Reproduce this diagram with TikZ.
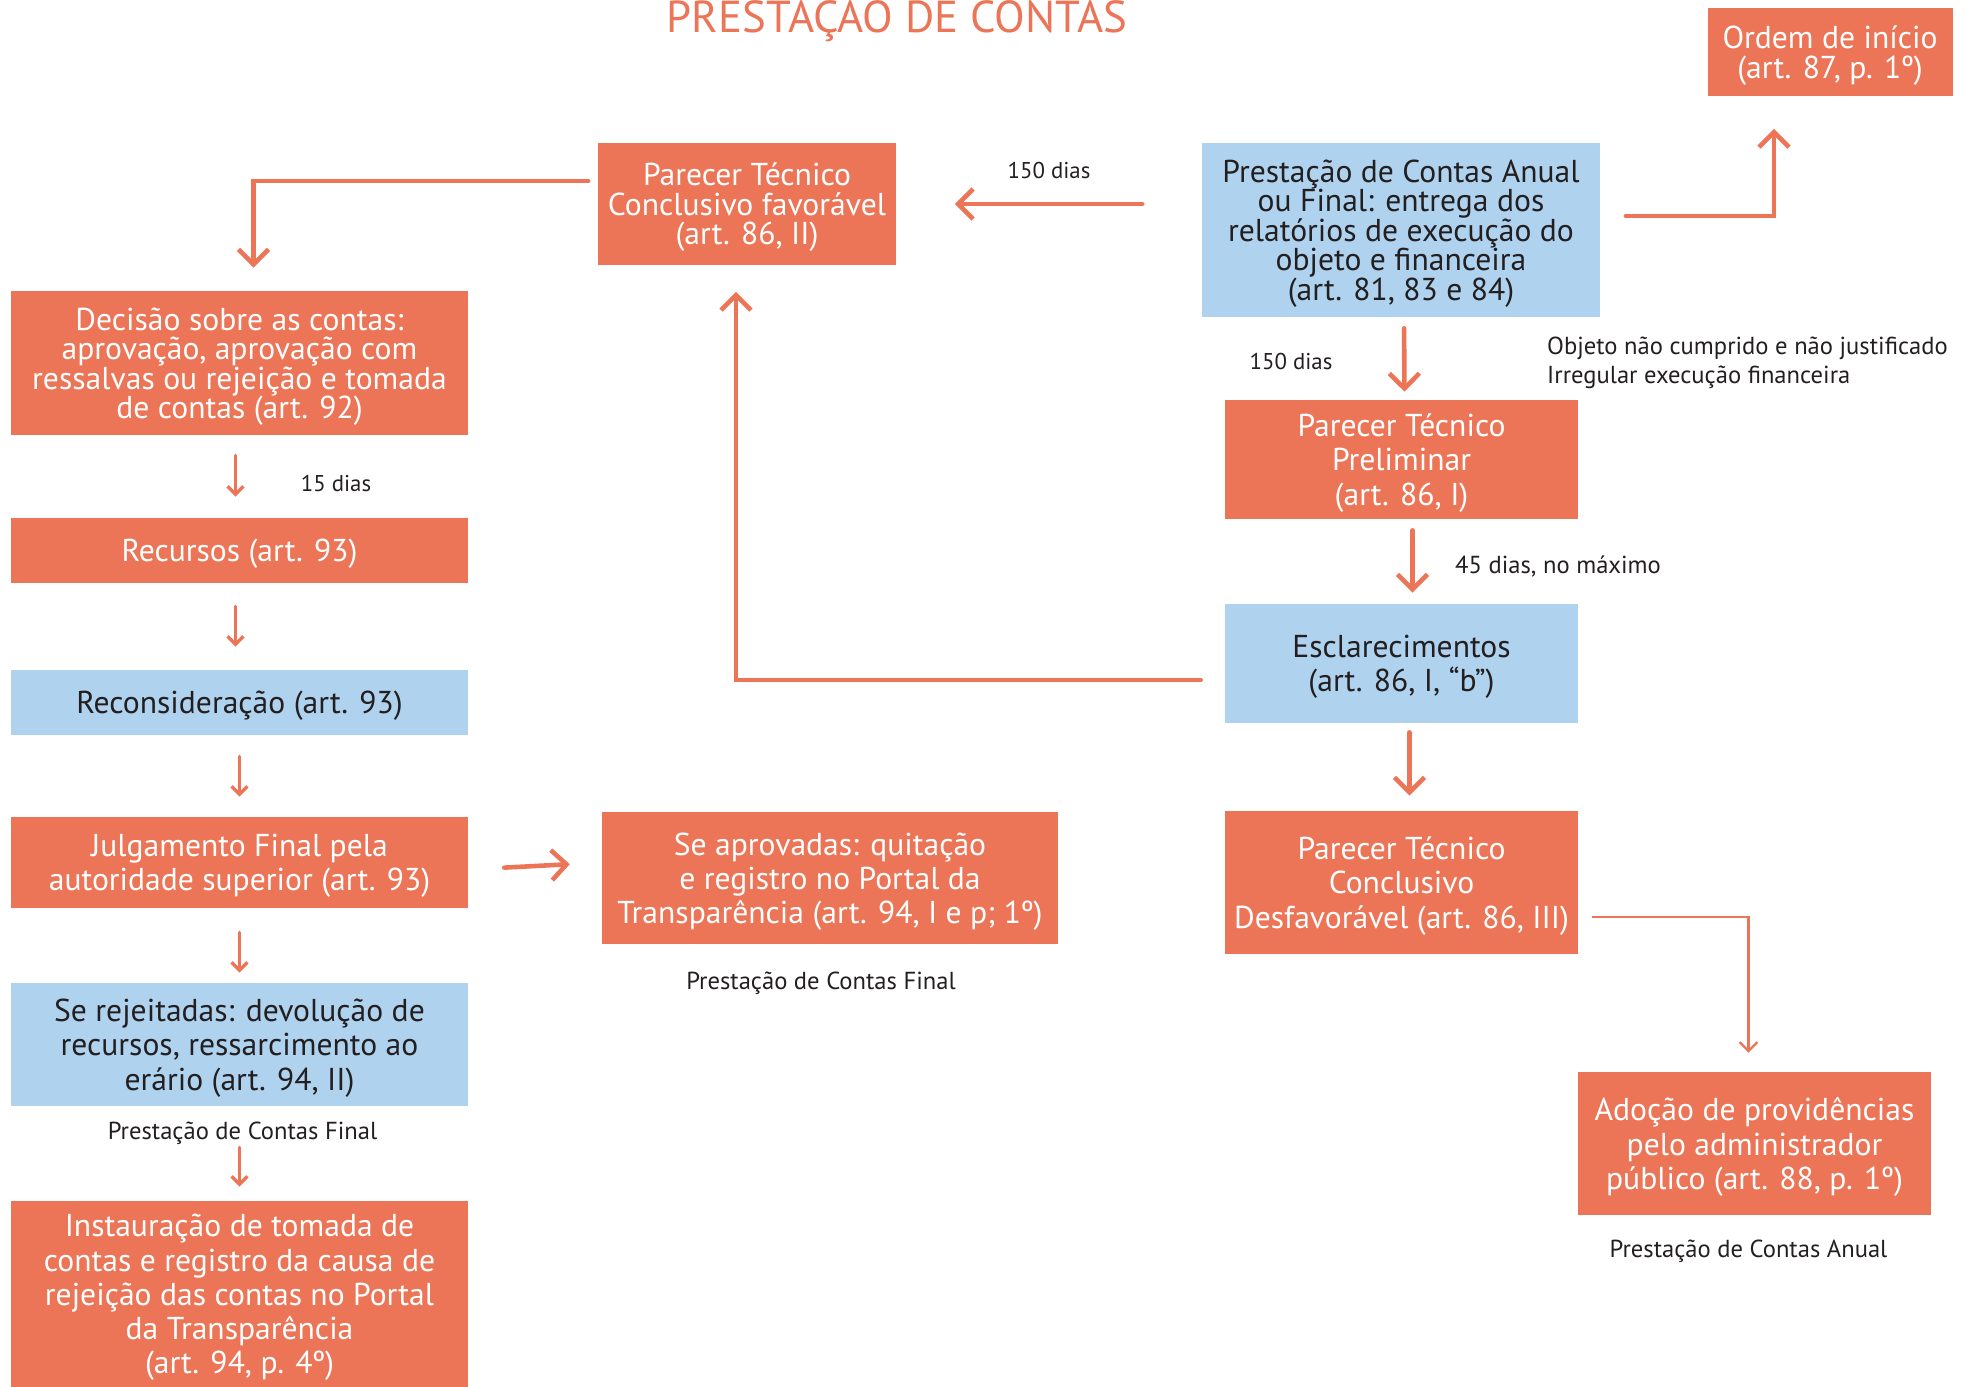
\documentclass[tikz,border=0pt]{standalone}
\usepackage{fontspec}
\setmainfont{PT Sans}
\usepackage{xcolor}
\usepackage{tikz}
\usetikzlibrary{positioning,arrows.meta}

\definecolor{orng}{HTML}{EC7557}
\definecolor{azul}{HTML}{AFD2EE}
\definecolor{ink}{HTML}{231F20}

\begin{document}
\begin{tikzpicture}[
  x=0.02cm, y=-0.02cm,
  box/.style={rectangle, inner sep=0pt, align=center, text depth=-3.5pt},
  tight/.style={font=\fontsize{18}{16.8}\selectfont},
  loose/.style={font=\fontsize{18}{19.5}\selectfont, text depth=-8pt},
  obox/.style={box, fill=orng, text=white},
  bbox/.style={box, fill=azul, text=ink},
  lbl/.style={font=\fontsize{14}{16.4}\selectfont, text=ink},
  dias/.style={font=\fontsize{13}{15}\selectfont, text=ink},
  arr/.style={draw=orng, line width=2.6pt, line cap=round,
    -{Straight Barb[length=0.3cm, width=0.6cm]}},
  arrsmall/.style={draw=orng, line width=1.9pt, line cap=round,
    -{Straight Barb[length=0.16cm, width=0.32cm]}},
  arrthin/.style={draw=orng, line width=1.3pt,
    -{Straight Barb[length=0.18cm, width=0.36cm]}}
]
\useasboundingbox (0,0) rectangle (1966,1386);

% Title
\node[anchor=base, text=orng, font=\fontsize{25.5}{27}\selectfont] (title) at (897,32) {PRESTAÇAO DE CONTAS};

% Right column
\node[obox, tight, minimum width=4.9cm, minimum height=1.78cm] (ordem) at (1830,52)
  {Ordem de início\\(art. 87, p. 1º)};
\node[bbox, tight, minimum width=7.98cm, minimum height=3.48cm] (anual) at (1401,230)
  {Prestação de Contas Anual\\ou Final: entrega dos\\relatórios de execução do\\objeto e financeira\\(art. 81, 83 e 84)};
\node[obox, loose, minimum width=7.06cm, minimum height=2.38cm] (prelim) at (1401.5,459.5)
  {Parecer Técnico\\Preliminar\\(art. 86, I)};
\node[bbox, loose, minimum width=7.06cm, minimum height=2.38cm] (escl) at (1401.5,663.5)
  {Esclarecimentos\\(art. 86, I, “b”)};
\node[obox, loose, minimum width=7.06cm, minimum height=2.86cm] (desfav) at (1401.5,882.5)
  {Parecer Técnico\\Conclusivo\\Desfavorável (art. 86, III)};
\node[obox, loose, minimum width=7.06cm, minimum height=2.86cm] (adocao) at (1754.5,1143.5)
  {Adoção de providências\\pelo administrador\\público (art. 88, p. 1º)};

% Middle column
\node[obox, tight, minimum width=5.98cm, minimum height=2.46cm] (fav) at (747,204)
  {Parecer Técnico\\Conclusivo favorável\\(art. 86, II)};
\node[obox, loose, minimum width=9.12cm, minimum height=2.64cm] (aprov) at (830,878)
  {Se aprovadas: quitação\\e registro no Portal da\\Transparência (art. 94, I e p; 1º)};

% Left column
\node[obox, tight, minimum width=9.14cm, minimum height=2.88cm] (decisao) at (239.5,363)
  {Decisão sobre as contas:\\aprovação, aprovação com\\ressalvas ou rejeição e tomada\\de contas (art. 92)};
\node[obox, tight, minimum width=9.14cm, minimum height=1.3cm] (recursos) at (239.5,550.5)
  {Recursos (art. 93)};
\node[bbox, tight, minimum width=9.14cm, minimum height=1.3cm] (recons) at (239.5,702.5)
  {Reconsideração (art. 93)};
\node[obox, loose, minimum width=9.14cm, minimum height=1.82cm] (julg) at (239.5,862.5)
  {Julgamento Final pela\\autoridade superior (art. 93)};
\node[bbox, loose, minimum width=9.14cm, minimum height=2.46cm] (rejeit) at (239.5,1044.5)
  {Se rejeitadas: devolução de\\recursos, ressarcimento ao\\erário (art. 94, II)};
\node[obox, loose, minimum width=9.14cm, minimum height=3.72cm] (instaur) at (239.5,1294)
  {Instauração de tomada de\\contas e registro da causa de\\rejeição das contas no Portal\\da Transparência\\(art. 94, p. 4º)};

% Labels
\node[dias] (d150a) at (1049,171) {150 dias};
\node[dias] (d150b) at (1291,361) {150 dias};
\node[lbl, anchor=west, align=left] (motivo) at (1541,363)
  {Objeto não cumprido e não justificado\\Irregular execução financeira};
\node[dias] (d15) at (336,483) {15 dias};
\node[lbl, anchor=west] (d45) at (1449,566) {45 dias, no máximo};
\node[lbl, below=0.42cm of aprov, xshift=-0.18cm] (finalA) {Prestação de Contas Final};
\node[lbl, below=0.18cm of rejeit, xshift=0.06cm] (finalB) {Prestação de Contas Final};
\node[lbl, below=0.36cm of adocao, xshift=-0.12cm] (anualC) {Prestação de Contas Anual};

% Connectors
\draw[arr, shorten <=1.18cm, shorten >=1.16cm] (anual.west |- fav.east) -- (fav.east);
\draw[arr, shorten >=0.64cm] ([shift={(25,-14)}]anual.east) -| ([xshift=-1.12cm]ordem.south);
\draw[arr, shorten <=0.18cm, shorten >=0.46cm] ([yshift=0.46cm]fav.west) -| ([xshift=0.28cm]decisao.north);
\draw[arr, shorten <=0.22cm, shorten >=0.16cm] ([xshift=0.06cm]anual.south) -- ([xshift=0.06cm]prelim.north);
\draw[arr, shorten <=0.22cm, shorten >=0.22cm] ([xshift=0.22cm]prelim.south) -- ([xshift=0.22cm]escl.north);
\draw[arr, shorten <=0.48cm, shorten >=0.52cm] ([yshift=-0.33cm]escl.west) -| ([xshift=-0.22cm]fav.south);
\draw[arr, shorten <=0.18cm, shorten >=0.3cm] ([xshift=0.16cm]escl.south) -- ([xshift=0.16cm]desfav.north);
\draw[arrthin, shorten <=0.28cm, shorten >=0.38cm] ([yshift=-0.69cm]desfav.east) -| ([xshift=-0.12cm]adocao.north);

\draw[arrsmall, shorten <=0.4cm, shorten >=0.42cm] ([xshift=-0.08cm]decisao.south) -- ([xshift=-0.08cm]recursos.north);
\draw[arrsmall, shorten <=0.46cm, shorten >=0.46cm] ([xshift=-0.08cm]recursos.south) -- ([xshift=-0.08cm]recons.north);
\draw[arrsmall, shorten <=0.42cm, shorten >=0.4cm] (recons.south) -- (julg.north);
\draw[arr, shorten <=0.72cm, shorten >=0.64cm] ([yshift=-0.14cm]julg.east) -- (aprov.west |- julg.east);
\draw[arrsmall, shorten <=0.48cm, shorten >=0.2cm] (julg.south) -- (rejeit.north);
\draw[arrsmall, shorten <=0.82cm, shorten >=0.28cm] (rejeit.south) -- (instaur.north);

\end{tikzpicture}
\end{document}
